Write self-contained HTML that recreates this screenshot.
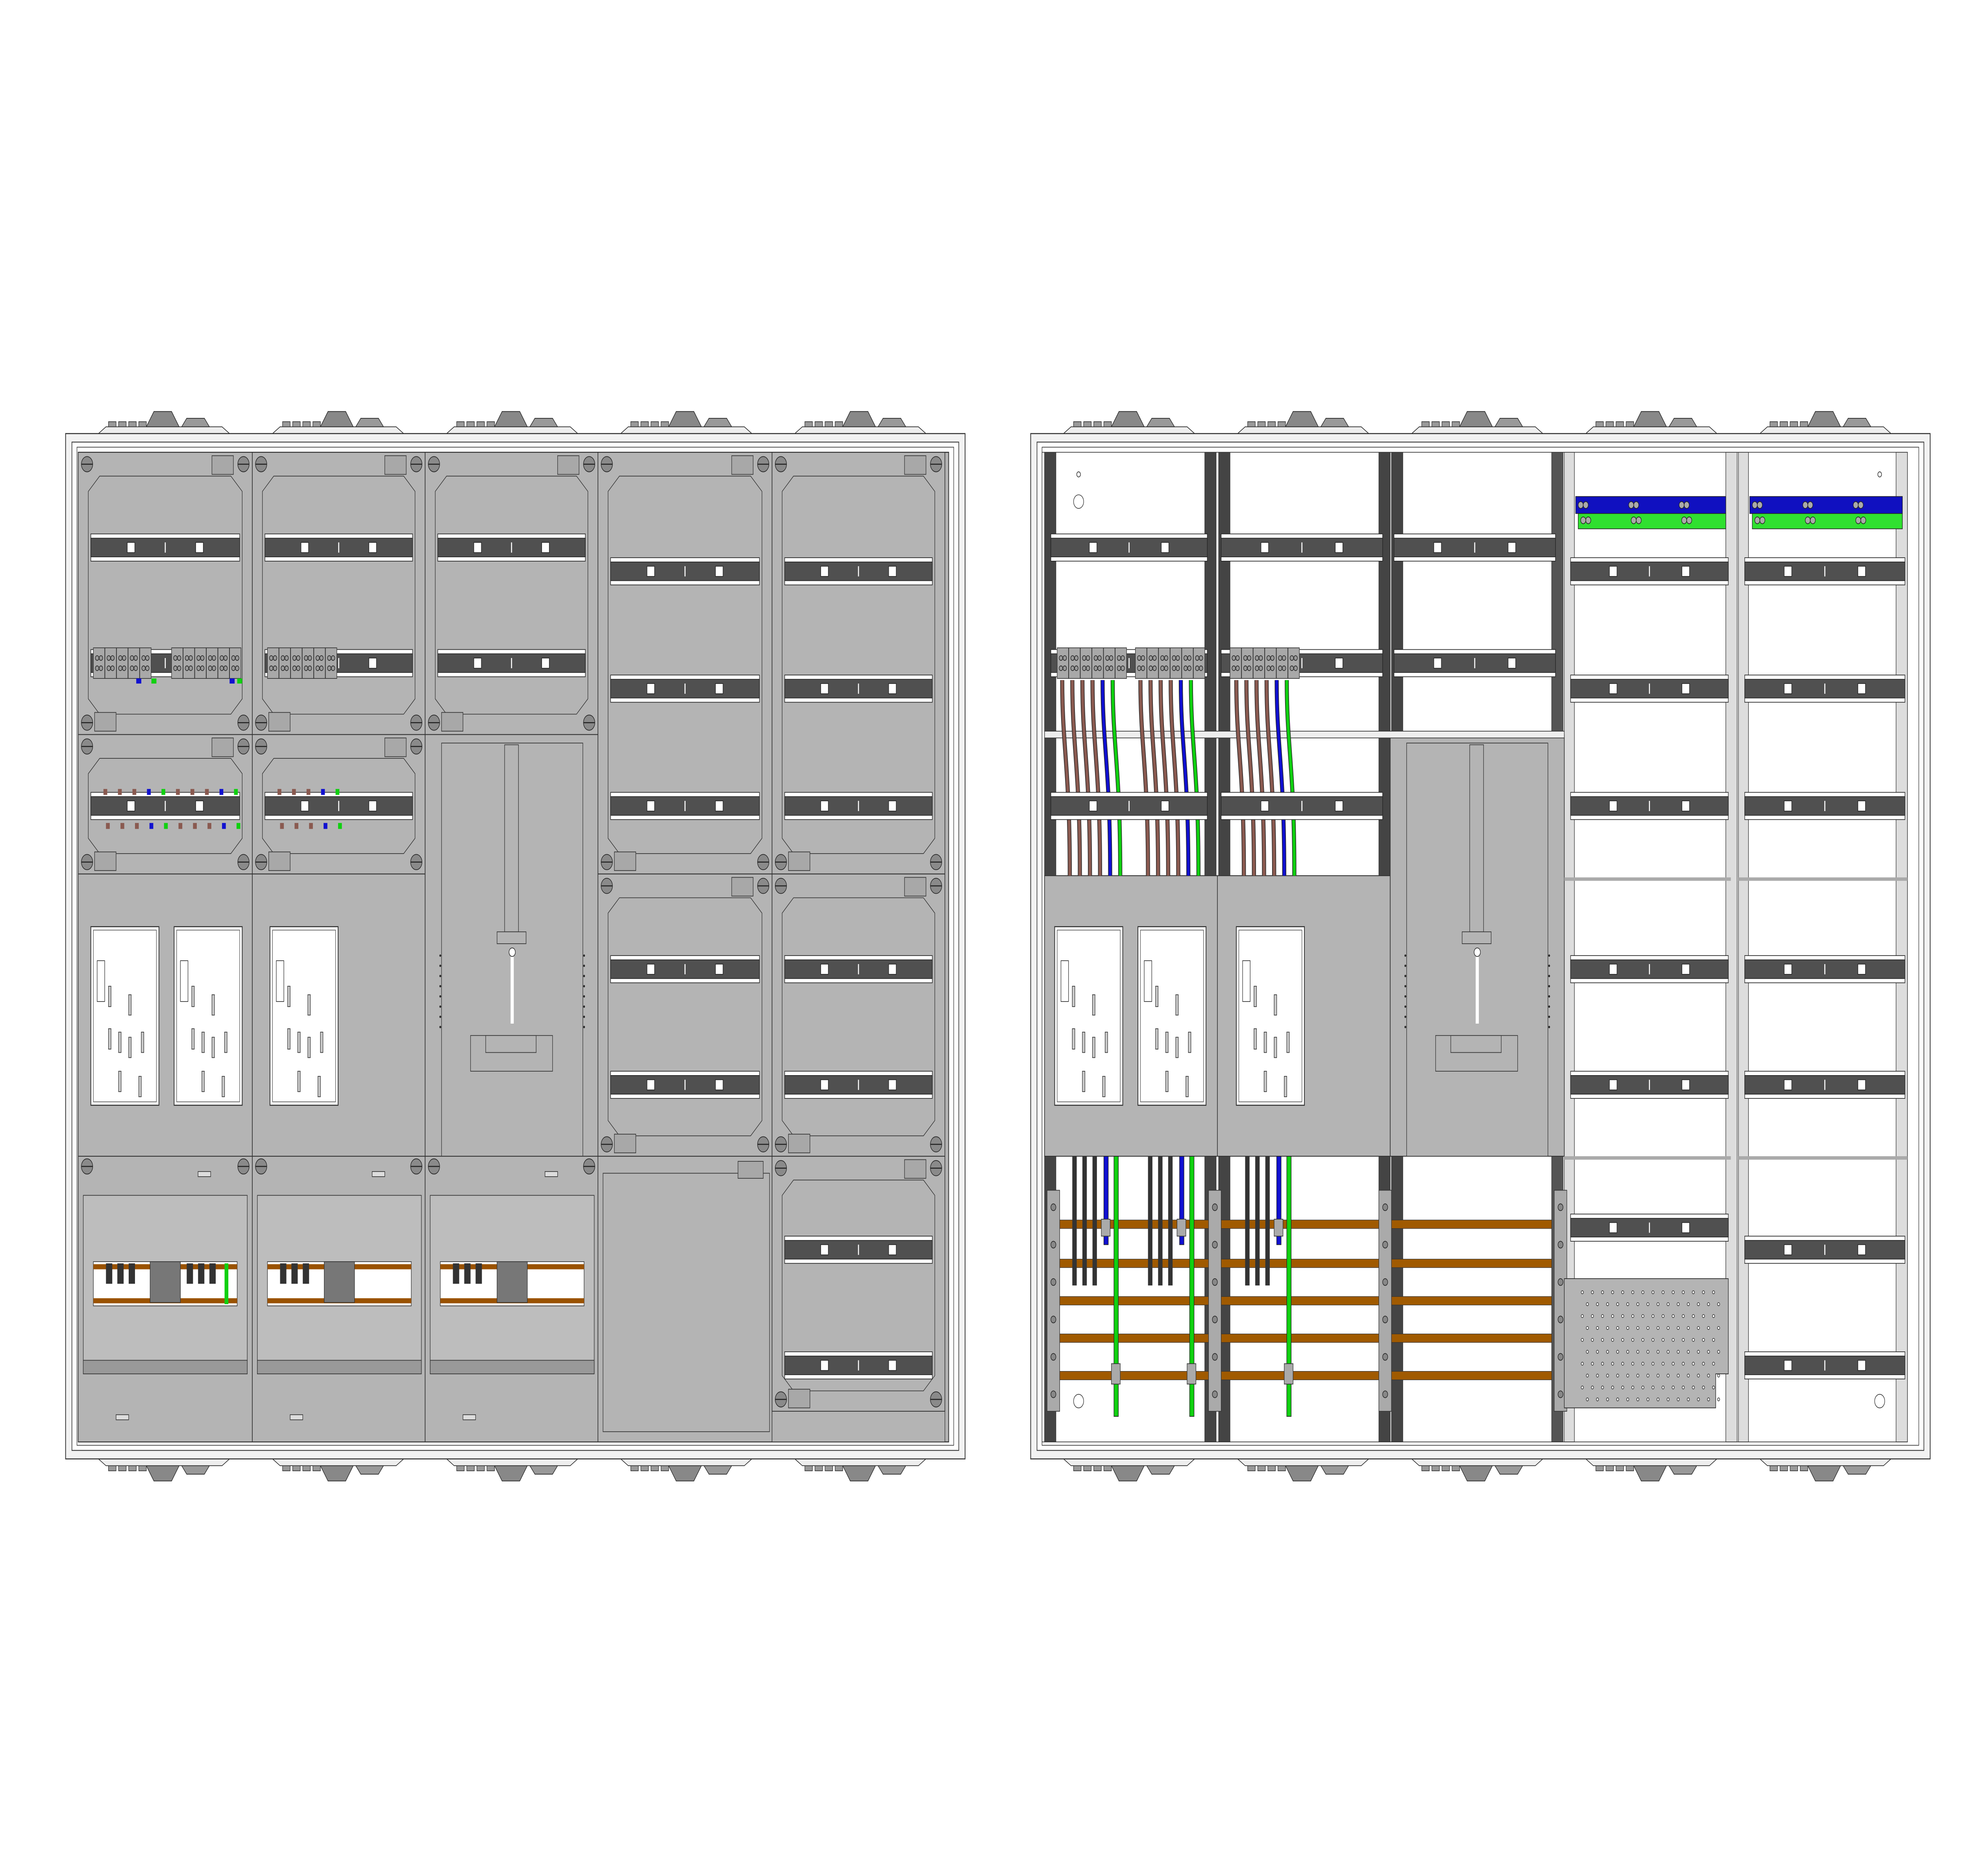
<!DOCTYPE html>
<html><head><meta charset="utf-8"><style>
html,body{margin:0;padding:0;background:#fff;width:100%;height:100%;overflow:hidden;}
svg{display:block;position:fixed;left:0;top:0;width:100vw;height:100vh;}
</style></head><body>
<svg id="s" xmlns="http://www.w3.org/2000/svg" viewBox="0 0 1560 1103.3" preserveAspectRatio="none"></svg>
<script>
var S=document.getElementById('s'),out=[];
function R(x,y,w,h,f,s,sw){out.push('<rect x="'+x+'" y="'+y+'" width="'+w+'" height="'+h+'" fill="'+f+'" stroke="'+(s||'none')+'" stroke-width="'+(sw||0.4)+'"/>');}
function L(x1,y1,x2,y2,c,w){out.push('<line x1="'+x1+'" y1="'+y1+'" x2="'+x2+'" y2="'+y2+'" stroke="'+c+'" stroke-width="'+w+'"/>');}
function C(x,y,r,f,s){out.push('<circle cx="'+x+'" cy="'+y+'" r="'+r+'" fill="'+f+'" stroke="'+(s||'#222')+'" stroke-width="0.4"/>');}
function P(pts,f,s){out.push('<polygon points="'+pts+'" fill="'+f+'" stroke="'+(s||'#222')+'" stroke-width="0.4"/>');}
var G='#b4b4b4';
function rail(x,y,w){R(x,y-8,w,16,'#fff','#222');R(x,y-5.5,w,11,'#505050','#222');
 R(x+w*0.27-3,y-3,6,6,'#fff','#222');R(x+w*0.73-3,y-3,6,6,'#fff','#222');L(x+w/2,y-3,x+w/2,y+3,'#fff',0.8);}
function screw(x,y){C(x,y,4.5,'#8a8a8a');L(x-4.5,y,x+4.5,y,'#222',0.6);}
function octo(x0,y0,w,h){R(x0,y0,w,h,G,'#333',0.5);
 var a=x0+8,b=y0+14,c=x0+w-8,d=y0+h-12,k=9;
 P((a+k)+','+b+' '+(c-k)+','+b+' '+c+','+(b+k)+' '+c+','+(d-k)+' '+(c-k)+','+d+' '+(a+k)+','+d+' '+a+','+(d-k)+' '+a+','+(b+k),G,'#333');
 screw(x0+7,y0+7);screw(x0+w-7,y0+7);screw(x0+7,y0+h-7);screw(x0+w-7,y0+h-7);
 R(x0+w-32,y0+2,17,11,'#a8a8a8','#333');R(x0+13,y0+h-13,17,11,'#a8a8a8','#333');}
function terms(x,y,n){for(var i=0;i<n;i++){R(x+i*9.2,y-9,9,18,'#a8a8a8','#333');C(x+i*9.2+3,y-3,1.4,'#999');C(x+i*9.2+6,y-3,1.4,'#999');C(x+i*9.2+3,y+3,1.4,'#999');C(x+i*9.2+6,y+3,1.4,'#999');}}
function meterWin(x,y){R(x,y,54,105,'#fff','#333',0.6);R(x+2,y+2,50,101,'#fff','#555');R(x+5,y+20,6,24,'none','#333');
 [[14,35],[30,40],[14,60],[30,65],[22,85],[38,88],[22,62],[40,62]].forEach(function(p){R(x+p[0],y+p[1],2,12,'#ccc','#333');});}
function handle(x0,y0){R(x0+13,y0+5,112,243,G,'#333');R(x0+63,y0+6,11,110,G,'#333');R(x0+57,y0+116,23,7,G,'#333');
 L(x0+69,y0+128,x0+69,y0+170,'#fff',2.5);C(x0+69,y0+128,2.5,'#fff');R(x0+36,y0+177,65,21,G,'#333');R(x0+48,y0+177,40,10,G,'#333');
 for(var i=0;i<8;i++){C(x0+12,y0+130+i*6,0.5,'#333');C(x0+126,y0+130+i*6,0.5,'#333');}}
function glands(x0,x1,y,dir){var cs=[];for(var c=x0+78;c<x1;c+=138)cs.push(c);
 cs.forEach(function(c){P((c-52)+','+y+' '+(c+52)+','+y+' '+(c+46)+','+(y-4*dir)+' '+(c-46)+','+(y-4*dir),'#eee');
  P((c-14)+','+(y-4*dir)+' '+(c+12)+','+(y-4*dir)+' '+(c+6)+','+(y-13*dir)+' '+(c-8)+','+(y-13*dir),'#888');
  P((c+14)+','+(y-4*dir)+' '+(c+36)+','+(y-4*dir)+' '+(c+32)+','+(y-9*dir)+' '+(c+18)+','+(y-9*dir),'#999');
  for(var i=0;i<4;i++){R(c-44+i*8,y+(dir>0?-7:4),6,3,'#999','#333');}
 });}
function frame(x){R(x,255,713,603,'#f2f2f2','#333',0.6);R(x+5,260,703,593,'#fff','#333',0.5);R(x+9,263,695,587,'#fff','#333',0.4);}
glands(52,765,255,1);glands(52,765,858,-1);
frame(52);R(62,266,690,582,G,'#333',0.6);
var X=[62,200,337,474,612,749];
for(var i=0;i<3;i++){octo(X[i],266,X[i+1]-X[i],166);rail(X[i]+10,322,X[i+1]-X[i]-20);rail(X[i]+10,390,X[i+1]-X[i]-20);}
terms(74,390,5);terms(136,390,6);terms(212,390,6);
[108,120,182,188].forEach(function(x,i){R(x,399,4,3,i%2?'#10d010':'#1010d0');});
for(var i=0;i<2;i++){octo(X[i],432,X[i+1]-X[i],82);rail(X[i]+10,474,X[i+1]-X[i]-20);
 for(var j=0;j<(i?5:10);j++){var xx=X[i]+20+j*11.5;var col=j%5==3?'#1010d0':j%5==4?'#10d010':'#8a5a50';R(xx,464,3,3.5,col);R(xx+2,484,3,3.5,col);}}
for(var i=0;i<2;i++)R(X[i],514,X[i+1]-X[i],166,G,'#333',0.5);
meterWin(72,545);meterWin(138,545);meterWin(214,545);
R(337,432,137,248,G,'#333',0.5);handle(337,432);
for(var i=0;i<3;i++){var x=X[i];R(x,680,X[i+1]-x,168,G,'#333',0.5);screw(x+7,686);screw(X[i+1]-7,686);R(x+95,689,10,3,'#ddd','#333');
 R(x+4,703,130,105,'#bdbdbd','#333');R(x+4,800,130,8,'#999','#333');R(x+12,742,114,26,'#fff','#333');
 L(x+12,745,x+126,745,'#9a5200',3);L(x+12,765,x+126,765,'#9a5200',3);
 for(var j=0;j<3;j++)R(x+22+j*9,743,5,12,'#333');R(x+57,742,24,24,'#777','#333');if(i==0){for(var j=0;j<3;j++)R(x+86+j*9,743,5,12,'#333');R(x+116,743,3,24,'#10d010');}
 R(x+30,832,10,3,'#ddd','#333');}
for(var i=3;i<5;i++){octo(X[i],266,X[i+1]-X[i],248);[336,405,474].forEach(function(y){rail(X[i]+10,y,X[i+1]-X[i]-20);});
 octo(X[i],514,X[i+1]-X[i],166);[570,638].forEach(function(y){rail(X[i]+10,y,X[i+1]-X[i]-20);});}
R(474,680,138,168,G,'#333',0.5);R(478,690,132,152,G,'#333');R(585,683,20,10,'#a8a8a8','#333');
octo(612,680,137,150);rail(622,735,117);rail(622,803,117);R(612,830,137,18,G,'#333');
glands(817,1530,255,1);glands(817,1530,858,-1);
frame(817);R(826,266,686,582,'#fff','#333',0.4);
var posts=[[828,9,'#444'],[955,9,'#444'],[966,9,'#444'],[1093,9,'#444'],[1103,9,'#444'],[1230,9,'#555'],[1240,8,'#ddd'],[1368,9,'#ddd'],[1378,8,'#ddd'],[1503,9,'#ddd']];
posts.forEach(function(p){R(p[0],266,p[1],582,p[2],'#333');});
R(828,515,274,165,G,'#333',0.5);L(965,515,965,680,'#333',0.5);
R(1102,432,138,248,G,'#333',0.5);handle(1102,432);
meterWin(836,545);meterWin(902,545);meterWin(980,545);
rail(833,322,124);rail(968,322,128);rail(1105,322,128);
rail(833,390,124);rail(968,390,128);rail(1105,390,128);
R(828,430,412,4,'#eee','#333');
terms(838,390,6);terms(900,390,6);terms(975,390,6);
function wires(x,n,y0,y1){for(var j=0;j<n;j++){var col=j==n-2?'#1010d0':j==n-1?'#10d010':'#8a5a50';
 var d='M'+(x+j*8)+' '+y0+' C'+(x+j*8)+' '+(y0+40)+' '+(x+j*8+6)+' '+(y0+50)+' '+(x+j*8+6)+' '+y1;
 out.push('<path d="'+d+'" fill="none" stroke="#222" stroke-width="3.2"/>');
 out.push('<path d="'+d+'" fill="none" stroke="'+col+'" stroke-width="2.3"/>');}}
wires(842,6,400,515);wires(904,6,400,515);wires(980,6,400,515);
rail(833,474,124);rail(968,474,128);
[720,743,765,787,809].forEach(function(y){R(833,y-2.5,397,5,'#a05a00','#333',0.3);});
function lowW(x){for(var j=0;j<3;j++)R(x+j*8,680,3.5,76,'#333');R(x+25,680,3.5,52,'#1010d0','#222');R(x+33,680,3.5,153,'#10d010','#222');R(x+23,717,7,10,'#aaa','#333');R(x+31,802,7,12,'#aaa','#333');}
lowW(850);lowW(910);lowW(987);
[830,958,1093,1232].forEach(function(x){R(x,700,10,130,'#aaa','#333');for(var k=0;k<6;k++)C(x+5,710+k*22,2,'#888');});
[[1245,1370],[1383,1510]].forEach(function(a,i){var w=a[1]-a[0];
 R(a[0]+4,292,w-6,10,'#1010c0','#222');R(a[0]+6,302,w-8,9,'#30e030','#222');
 for(var k=0;k<3;k++){C(a[0]+8+k*40,297,2,'#aaa');C(a[0]+12+k*40,297,2,'#aaa');C(a[0]+10+k*40,306,2,'#aaa');C(a[0]+14+k*40,306,2,'#aaa');}
 [336,405,474,570,638].forEach(function(y){rail(a[0],y,w);});
 L(a[0]-5,517,a[1]+2,517,'#aaa',2);L(a[0]-5,681,a[1]+2,681,'#aaa',2);});
rail(1245,722,125);rail(1383,735,127);rail(1383,803,127);
P('1240,752 1370,752 1370,808 1360,808 1360,828 1240,828',G);
for(var yy=760;yy<826;yy+=7)for(var xx=1252;xx<1362;xx+=8)C(xx+((yy/7)%2)*4,yy,0.9,'#fff','#333');
C(855,279,1.5,'#fff');C(1490,279,1.5,'#fff');
C(855,295,4,'#fff','#333');C(855,824,4,'#fff','#333');C(1490,824,4,'#fff','#333');
S.innerHTML=out.join('');
</script>
</body></html>
